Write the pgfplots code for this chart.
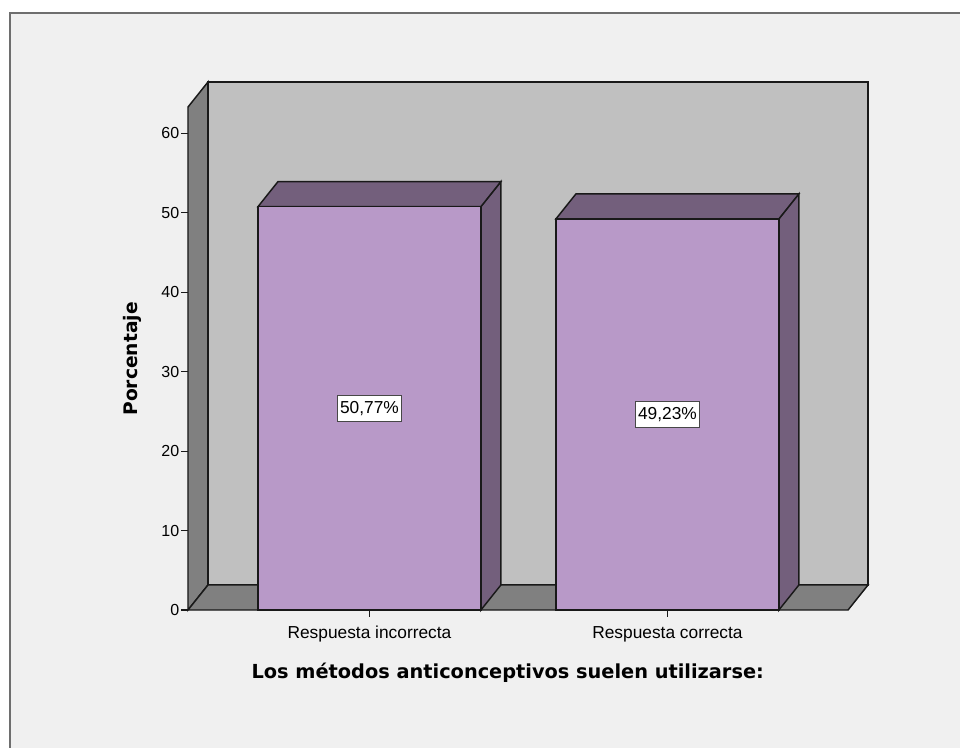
\documentclass[border=0pt]{standalone}
\usepackage{pgfplots}
\pgfplotsset{compat=1.18}
\usepackage{fontspec}
\setmainfont{Liberation Sans}
\newfontfamily\titlefont{DejaVu Sans Bold}
\definecolor{barfront}{RGB}{184,153,200}
\definecolor{bardark}{RGB}{115,95,124}
\definecolor{wallback}{RGB}{192,192,192}
\definecolor{walldark}{RGB}{128,128,128}
\definecolor{bg}{RGB}{240,240,240}
\definecolor{framec}{RGB}{110,110,110}
\definecolor{edge}{RGB}{25,25,25}
\begin{document}
\begin{tikzpicture}[x=0.75pt,y=0.75pt]
\path[use as bounding box] (-188,-137) rectangle (772,610);
\fill[white] (-188,-137) rectangle (772,610);
\filldraw[fill=bg, draw=framec, line width=1.5pt] (-178,-160) rectangle (800,597);
\begin{axis}[at={(0,0)}, anchor=south west, scale only axis,
  width=510pt, height=396pt,
  xmin=-0.609, xmax=1.673, ymin=0, ymax=66.45,
  axis line style={draw=none},
  clip=false,
  ytick={0,10,20,30,40,50,60}, ytick pos=left,
  xtick={0,1}, xticklabels={Respuesta incorrecta, Respuesta correcta}, xtick pos=bottom,
  tick align=outside, major tick length=5pt,
  tick style={edge, line width=0.8pt},
  /pgf/number format/assume math mode=true,
  yticklabel style={font=\fontsize{12}{13}\selectfont, xshift=2pt},
  xticklabel style={font=\fontsize{13}{14}\selectfont, text height=9.5pt, text depth=3pt, yshift=-3pt},
  xlabel={Los métodos anticonceptivos suelen utilizarse:},
  xlabel style={font=\titlefont\fontsize{14.5}{16}\selectfont, at={(axis description cs:0.4702,-0.119)}, anchor=center},
  ylabel={Porcentaje},
  ylabel style={font=\titlefont\fontsize{14}{16}\selectfont, at={(axis description cs:-0.0824,0.4754)}, anchor=center},
]
% back wall
\addplot[fill=wallback, draw=edge, line width=1.1pt] coordinates {(-0.542,3.145) (1.673,3.145) (1.673,66.45) (-0.542,66.45)} -- cycle;
% left wall
\addplot[fill=walldark, draw=edge, line width=1.1pt] coordinates {(-0.609,0) (-0.609,63.3) (-0.542,66.45) (-0.542,3.145)} -- cycle;
% floor
\addplot[fill=walldark, draw=edge, line width=1.1pt] coordinates {(-0.609,0) (1.606,0) (1.673,3.145) (-0.542,3.145)} -- cycle;
% bar 1 : 50.77
\addplot[fill=bardark, draw=edge, line width=1.1pt] coordinates {(0.374,0) (0.441,3.145) (0.441,53.915) (0.374,50.77)} -- cycle;
\addplot[fill=bardark, draw=edge, line width=1.1pt] coordinates {(-0.374,50.77) (0.374,50.77) (0.441,53.915) (-0.307,53.915)} -- cycle;
\addplot[fill=barfront, draw=edge, line width=1.1pt] coordinates {(-0.374,0) (0.374,0) (0.374,50.77) (-0.374,50.77)} -- cycle;
% bar 2 : 49.23
\addplot[fill=bardark, draw=edge, line width=1.1pt] coordinates {(1.374,0) (1.441,3.145) (1.441,52.375) (1.374,49.23)} -- cycle;
\addplot[fill=bardark, draw=edge, line width=1.1pt] coordinates {(0.626,49.23) (1.374,49.23) (1.441,52.375) (0.693,52.375)} -- cycle;
\addplot[fill=barfront, draw=edge, line width=1.1pt] coordinates {(0.626,0) (1.374,0) (1.374,49.23) (0.626,49.23)} -- cycle;
% value labels
\node[fill=white, draw=edge!80, line width=0.8pt, inner xsep=2pt, inner ysep=4.5pt, font=\fontsize{13}{14}\selectfont] at (axis cs:0,25.385) {50,77\%};
\node[fill=white, draw=edge!80, line width=0.8pt, inner xsep=2pt, inner ysep=4.5pt, font=\fontsize{13}{14}\selectfont] at (axis cs:1,24.615) {49,23\%};
\end{axis}
\end{tikzpicture}
\end{document}
